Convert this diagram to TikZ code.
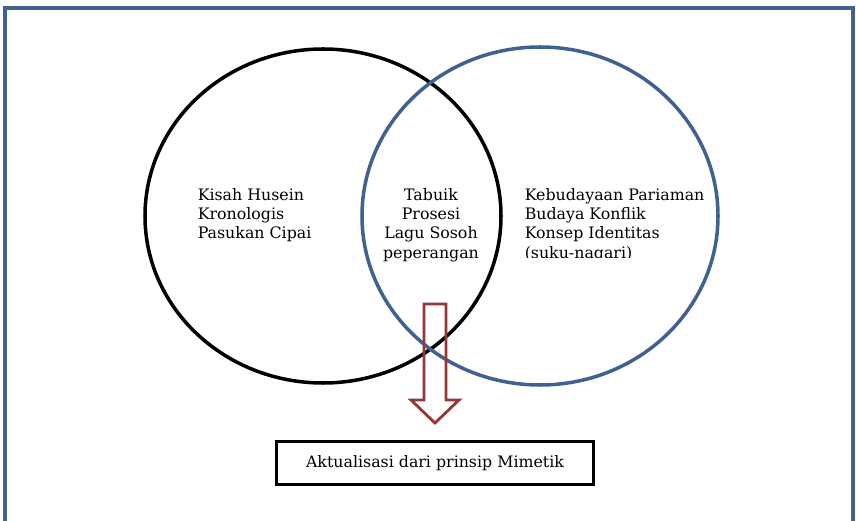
\documentclass[tikz,border=0pt]{standalone}
\usepackage{fontspec}
\setmainfont{DejaVu Serif}
\usetikzlibrary{positioning}

\definecolor{bingkai}{RGB}{63,98,146}
\definecolor{panah}{RGB}{149,55,53}

\tikzset{
    teks/.style={font=\fontsize{9}{11}\selectfont, inner sep=0pt},
    kotak/.style={draw, line width=1.8pt, minimum width=6.34cm, minimum height=0.86cm,
                  font=\fontsize{9}{11}\selectfont}
}

\begin{document}
\begin{tikzpicture}[x=0.02cm,y=0.02cm]
    \useasboundingbox (0,0) rectangle (856,521);
    \begin{scope}[line width=2pt]

        % bingkai luar
        \draw [color=bingkai] (5,-10) -- (5,513) -- (853,513) -- (853,-10);

        % dua lingkaran
        \draw [color=black] (323,305) ellipse (178 and 167);
        \draw [color=bingkai] (540,305) ellipse (178 and 169);

        \node [teks, anchor=west, align=left] (kiri) at (196,306)
            {Kisah Husein\\Kronologis\\Pasukan Cipai};
        \node [teks, align=center] (tengah) at (431,296)
            {Tabuik\\Prosesi\\Lagu Sosoh\\peperangan};
        \begin{scope}
            \clip (505,263) rectangle (730,350);
            \node [teks, anchor=west, align=left] (kanan) at (523,296)
                {Kebudayaan Pariaman\\Budaya Konflik\\Konsep Identitas\\(suku-nagari)};
        \end{scope}

        % panah ke bawah
        \coordinate (ujung) at (435,98);
        \draw [color=panah, line width=1.6pt] (424,217) -- (446,217) -- (446,121)
            -- (459,121) -- (ujung) -- (411,121) -- (424,121) -- cycle;

        \node [kotak, below=0.34cm of ujung] (hasil) {Aktualisasi dari prinsip Mimetik};
    \end{scope}
\end{tikzpicture}
\end{document}
